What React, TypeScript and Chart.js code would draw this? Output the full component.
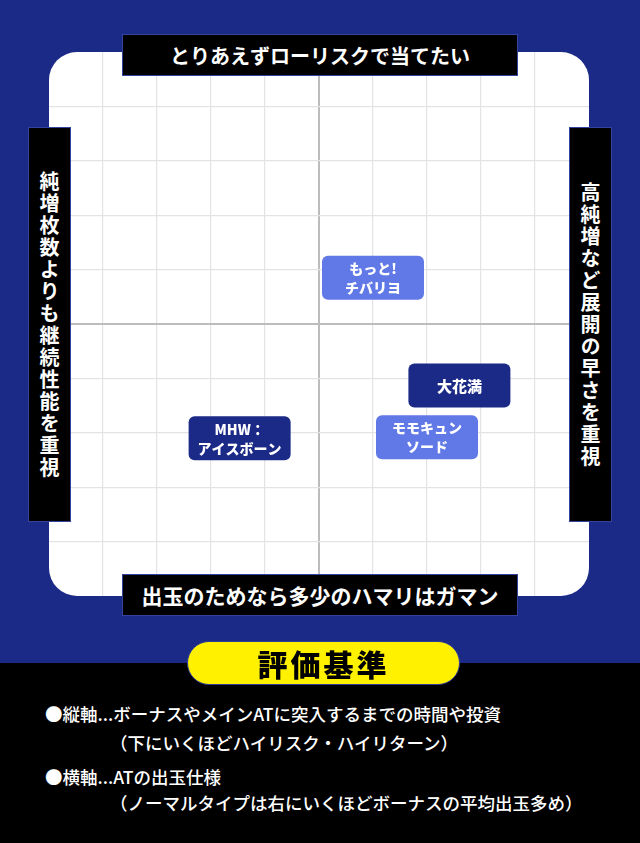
import React, { useEffect, useRef } from 'react';
import { Chart, registerables } from 'chart.js';

Chart.register(...registerables);

// ---- data ----
const machineNames: string[][] = [
  ['もっと!', 'チバリヨ'],
  ['大花満'],
  ['モモキュン', 'ソード'],
  ['MHW：', 'アイスボーン'],
];
const xValues = [1.0, 2.6, 2.0, -1.47];
const yValues = [0.85, -1.13, -2.08, -2.1];
const machineGroup = ['light', 'dark', 'light', 'dark'];
const axisMin = -5;
const axisMax = 5;
const topLabel = 'とりあえずローリスクで当てたい';
const bottomLabel = '出玉のためなら多少のハマリはガマン';
const leftLabel = '純増枚数よりも継続性能を重視';
const rightLabel = '高純増など展開の早さを重視';
const legendTitle = '評価基準';
const noteLines = [
  '●縦軸...ボーナスやメインATに突入するまでの時間や投資',
  '（下にいくほどハイリスク・ハイリターン）',
  '●横軸...ATの出玉仕様',
  '（ノーマルタイプは右にいくほどボーナスの平均出玉多め）',
];

// ---- styles ----
const BLUE = '#1b2a87';
const groupColor: Record<string, string> = { light: '#6079e6', dark: '#1b2a87' };
const FONT = '"Noto Sans CJK JP", "Noto Sans", sans-serif';

const panelPlugin = {
  id: 'panel',
  beforeDraw(chart: any) {
    const { ctx, chartArea: a } = chart;
    ctx.save();
    ctx.fillStyle = '#ffffff';
    ctx.beginPath();
    ctx.roundRect(a.left, a.top, a.right - a.left, a.bottom - a.top, 28);
    ctx.fill();
    ctx.restore();
  },
};

const boxLabelPlugin = {
  id: 'boxLabels',
  afterDatasetsDraw(chart: any) {
    const { ctx } = chart;
    const meta = chart.getDatasetMeta(0);
    const w = 102;
    const h = 44;
    meta.data.forEach((el: any, i: number) => {
      const { x, y } = el.getProps(['x', 'y'], true);
      ctx.save();
      ctx.fillStyle = groupColor[machineGroup[i]];
      ctx.beginPath();
      ctx.roundRect(x - w / 2, y - h / 2, w, h, 6);
      ctx.fill();
      ctx.fillStyle = '#ffffff';
      ctx.textAlign = 'center';
      ctx.textBaseline = 'middle';
      const lines = machineNames[i];
      if (lines.length === 1) {
        ctx.font = `900 15px ${FONT}`;
        ctx.fillText(lines[0], x, y + 1);
      } else {
        ctx.font = `900 14px ${FONT}`;
        ctx.fillText(lines[0], x, y - 9);
        ctx.fillText(lines[1], x, y + 10);
      }
      ctx.restore();
    });
  },
};

const gridColor = (c: any) => {
  const v = c.tick?.value;
  if (v === axisMin || v === axisMax) return 'rgba(0,0,0,0)';
  if (v === 0) return '#bcbcbc';
  return '#e3e3e3';
};
const gridWidth = (c: any) => (c.tick?.value === 0 ? 2 : 1.2);

export default function App() {
  const ref = useRef<HTMLCanvasElement | null>(null);

  useEffect(() => {
    if (!ref.current) return;
    const chart = new Chart(ref.current, {
      type: 'scatter',
      data: {
        datasets: [
          {
            data: xValues.map((x, i) => ({ x, y: yValues[i] })),
            pointRadius: 0,
            pointHoverRadius: 0,
          },
        ],
      },
      options: {
        animation: false,
        responsive: false,
        events: [],
        layout: { padding: { left: 49, right: 51, top: 52, bottom: 67 } },
        plugins: { legend: { display: false }, tooltip: { enabled: false } },
        scales: {
          x: {
            type: 'linear',
            min: axisMin,
            max: axisMax,
            ticks: { display: false, stepSize: 1 },
            grid: { color: gridColor, lineWidth: gridWidth, drawTicks: false },
            border: { display: false },
          },
          y: {
            type: 'linear',
            min: axisMin,
            max: axisMax,
            ticks: { display: false, stepSize: 1 },
            grid: { color: gridColor, lineWidth: gridWidth, drawTicks: false },
            border: { display: false },
          },
        },
      },
      plugins: [panelPlugin, boxLabelPlugin],
    });
    return () => chart.destroy();
  }, []);

  const hBox = (top: number, size: number): React.CSSProperties => ({
    position: 'absolute',
    left: 122,
    top,
    width: 396,
    height: 42,
    boxSizing: 'border-box',
    background: '#000',
    border: '1px solid #33449e',
    color: '#fff',
    fontFamily: FONT,
    fontWeight: 700,
    fontSize: size,
    display: 'flex',
    alignItems: 'center',
    justifyContent: 'center',
  });
  const vBox = (left: number): React.CSSProperties => ({
    position: 'absolute',
    left,
    top: 127,
    width: 43,
    height: 395,
    boxSizing: 'border-box',
    background: '#000',
    border: '1px solid #33449e',
    color: '#fff',
    fontFamily: FONT,
    fontWeight: 700,
    fontSize: 20,
    display: 'flex',
    alignItems: 'center',
    justifyContent: 'center',
  });
  const note = (top: number, left: number): React.CSSProperties => ({
    position: 'absolute',
    left,
    top,
    color: '#fff',
    fontFamily: FONT,
    fontWeight: 500,
    fontSize: 17.5,
    lineHeight: '28px',
    whiteSpace: 'nowrap',
  });

  return (
    <div
      style={{
        position: 'absolute',
        left: 0,
        top: 0,
        width: 640,
        height: 843,
        background: '#000',
        overflow: 'hidden',
      }}
    >
      <div style={{ position: 'absolute', left: 0, top: 0, width: 640, height: 663, background: BLUE }} />
      <canvas ref={ref} width={640} height={663} style={{ position: 'absolute', left: 0, top: 0 }} />
      <div style={hBox(34, 20)}>{topLabel}</div>
      <div style={hBox(574, 21)}>{bottomLabel}</div>
      <div style={vBox(28)}>
        <span style={{ writingMode: 'vertical-rl', letterSpacing: 2 }}>{leftLabel}</span>
      </div>
      <div style={vBox(569)}>
        <span style={{ writingMode: 'vertical-rl', letterSpacing: 2 }}>{rightLabel}</span>
      </div>
      <div
        style={{
          position: 'absolute',
          left: 187,
          top: 641,
          width: 273,
          height: 44,
          boxSizing: 'border-box',
          border: '1px solid #2c3c9a',
          borderRadius: 22,
          background: '#fff100',
          color: '#000',
          fontFamily: FONT,
          fontWeight: 900,
          fontSize: 30,
          letterSpacing: 3,
          display: 'flex',
          alignItems: 'center',
          justifyContent: 'center',
          paddingLeft: 0,
        }}
      >
        {legendTitle}
      </div>
      <div style={note(700, 45)}>{noteLines[0]}</div>
      <div style={note(729, 110)}>{noteLines[1]}</div>
      <div style={note(763, 45)}>{noteLines[2]}</div>
      <div style={note(789, 110)}>{noteLines[3]}</div>
    </div>
  );
}
